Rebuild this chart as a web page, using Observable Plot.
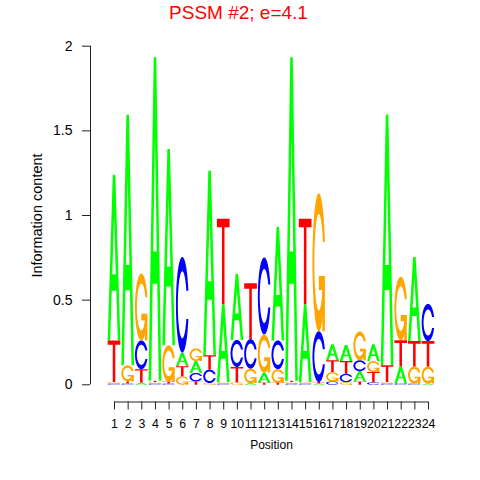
<!DOCTYPE html>
<html><head><meta charset="utf-8">
<script src="https://cdn.jsdelivr.net/npm/d3@7"></script>
<script src="https://cdn.jsdelivr.net/npm/@observablehq/plot@0.6"></script>
<style>
body{margin:0;background:#fff;font-family:"Liberation Sans",Arial,Helvetica,sans-serif}
#wrap{width:480px;background:#fff}
#title{height:30px;line-height:26px;font-size:19px;color:#ff0000;text-align:center;width:477px;white-space:nowrap}
</style></head><body><div id="wrap"><div id="title"></div><div id="chart"></div></div>
<script>
// ---- data ----
const titleText = "PSSM #2; e=4.1";
const xLabel = "Position";
const yLabel = "Information content";
const positions = [1,2,3,4,5,6,7,8,9,10,11,12,13,14,15,16,17,18,19,20,21,22,23,24];
const A = [0.98,1.48,0.012,1.91,1.16,0.08,0.07,1.09,0.46,0.39,0.01,0.06,0.67,1.91,0.46,0.008,0.095,0.095,0.06,0.10,1.48,0.10,0.497,0.008];
const C = [0.008,0.008,0.17,0.008,0.008,0.565,0.05,0.08,0.008,0.16,0.175,0.455,0.17,0.008,0.008,0.30,0.02,0.05,0.065,0.015,0.008,0.008,0.008,0.22];
const G = [0.008,0.095,0.395,0.008,0.215,0.05,0.075,0.01,0.008,0.015,0.085,0.225,0.08,0.008,0.008,0.815,0.055,0.015,0.17,0.065,0.008,0.375,0.10,0.10];
const T = [0.245,0.012,0.08,0.008,0.01,0.06,0.02,0.085,0.505,0.09,0.33,0.012,0.012,0.008,0.505,0.008,0.07,0.075,0.02,0.06,0.10,0.155,0.15,0.15];
const yTicks = [0,0.5,1,1.5,2];
const baseColors = {A:"#00ff00", C:"#0000ff", G:"#ffa500", T:"#ff0000"};

document.getElementById("title").textContent = titleText;

// ---- glyph outlines in unit square (seqLogo style) ----
function seq(a,b,n){const r=[];for(let i=0;i<n;i++) r.push(a+(b-a)*i/(n-1));return r;}
function cOutline(){
  const a1=seq(0.3+Math.PI/2,Math.PI,100), a2=seq(Math.PI,1.5*Math.PI,100);
  const xl=[...a1,...a2].map(a=>0.5+0.5*Math.sin(a)), yl=[...a1,...a2].map(a=>0.5+0.5*Math.cos(a));
  const maxy=Math.max(...a1.map(a=>0.5+0.5*Math.cos(a)));
  const x=[...xl,...xl.slice().reverse()], y=[...yl,...yl.slice().reverse().map(v=>1-v)];
  let xi1=a1.map(a=>0.5+0.35*Math.sin(a)), yi1=a1.map(a=>0.5+0.35*Math.cos(a));
  const keep=yi1.map(v=>v<=maxy);
  xi1=xi1.filter((_,i)=>keep[i]); yi1=yi1.filter((_,i)=>keep[i]); yi1[0]=maxy;
  const xi=[...xi1,...a2.map(a=>0.5+0.35*Math.sin(a))], yi=[...yi1,...a2.map(a=>0.5+0.35*Math.cos(a))];
  const x1=[...xi,...xi.slice().reverse()], y1=[...yi,...yi.slice().reverse().map(v=>1-v)];
  const X=[...x,...x1.slice().reverse()], Y=[...y,...y1.slice().reverse()];
  return {ring: X.map((v,i)=>[v,Y[i]]), r1: Math.max(...a1.map(a=>0.5+0.5*Math.sin(a)))};
}
const co = cOutline();
const r1 = co.r1;
const glyphs = {
  A: [[[0,0],[0.4,1],[0.6,1],[1,0],[0.8,0],[0.68,0.3],[0.32,0.3],[0.2,0],[0,0],[0.36,0.4],[0.64,0.4],[0.5,0.75],[0.36,0.4],[0,0]]],
  T: [[[0,1],[1,1],[1,0.9],[0.6,0.9],[0.6,0],[0.4,0],[0.4,0.9],[0,0.9]]],
  C: [co.ring],
  G: [co.ring.slice().reverse(), [[r1,0.4],[0.5,0.4],[0.5,0.3],[r1-0.2,0.3],[r1-0.2,0],[r1,0],[r1,0.4]]]
};

// ---- stack letters per position ----
const heights = {A, C, G, T};
const letterW = 0.93;
const polys = {A:[], C:[], G:[], T:[]};
let pid = 0;
positions.forEach((p,i)=>{
  const col = ["A","C","G","T"].map(b=>({b, h: heights[b][i]})).sort((u,v)=>u.h-v.h);
  let y0 = 0;
  for (const {b,h} of col){
    if (h>0) for (const ring of glyphs[b]){ pid++; for (const [u,v] of ring) polys[b].push({id:pid, x:p-0.5+u*letterW, y:y0+v*h}); }
    y0 += h;
  }
});

const plot = Plot.plot({
  width: 480, height: 450,
  marginLeft: 90, marginRight: 20, marginTop: 15.7, marginBottom: 78.5,
  x: {type:"linear", domain:[positions[0], positions[positions.length-1]], insetLeft:24, insetRight:32},
  y: {domain:[yTicks[0], yTicks[yTicks.length-1]], insetBottom:17.2},
  style: {fontFamily:"'Liberation Sans',Arial,Helvetica,sans-serif", fontSize:"12px", background:"white", color:"black"},
  marks: [
    ...["A","C","G","T"].map(b=>Plot.line(polys[b], {x:"x", y:"y", z:"id", fill:baseColors[b], stroke:"none"})),
    Plot.ruleX([positions[0]], {y1:yTicks[0], y2:yTicks[yTicks.length-1], dx:-24, stroke:"#222"}),
    Plot.ruleY([yTicks[0]], {x1:positions[0], x2:positions[positions.length-1], dy:17.2, stroke:"#222"}),
    Plot.axisY({ticks:yTicks, tickSize:8, tickPadding:10, tickFormat:d=>String(d), label:null, stroke:"#222", fontSize:14}),
    Plot.axisX({ticks:positions, tickSize:8, tickPadding:9, tickFormat:d=>String(d), label:null, stroke:"#222", fontSize:12.3}),
    Plot.text([xLabel], {x:(positions[0]+positions[positions.length-1])/2, frameAnchor:"bottom", dy:43.5, text:d=>d, fontSize:12, textAnchor:"middle", lineAnchor:"middle"}),
    Plot.text([yLabel], {y:(yTicks[0]+yTicks[yTicks.length-1])/2, frameAnchor:"left", dx:-53.5, rotate:-90, text:d=>d, fontSize:14.5, textAnchor:"middle", lineAnchor:"middle"})
  ]
});
document.getElementById("chart").appendChild(plot);
</script>
</body></html>
